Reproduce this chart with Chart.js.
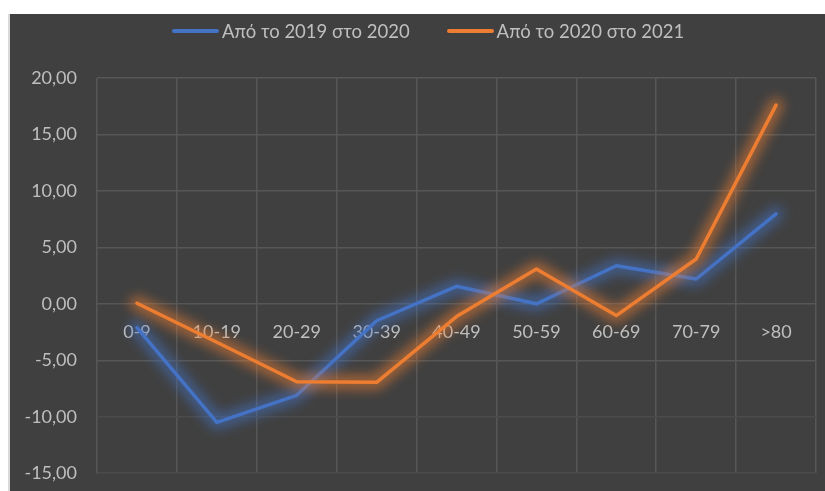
<!DOCTYPE html>
<html lang="el">
<head>
    <meta charset="UTF-8">
    <title>Μεταβολή ανά ηλικιακή ομάδα</title>
    <script src="https://cdn.jsdelivr.net/npm/chart.js"></script>
    <style>
        body {
            margin: 0;
            background-color: #ffffff;
            font-family: 'Lato', 'Open Sans', sans-serif;
        }

        #chart-box {
            position: absolute;
            left: 8px;
            top: 14px;
            width: 817px;
            height: 477px;
            box-sizing: border-box;
            border-left: 2px solid #d9d9d9;
            background-color: #404040;
            overflow: hidden;
        }

        #legend {
            position: absolute;
            left: 162px;
            top: 5px;
            height: 24px;
            display: flex;
            align-items: center;
            gap: 37px;
            color: #bfbfbf;
            font-size: 18.5px;
            white-space: nowrap;
        }

        .legend-item {
            display: flex;
            align-items: center;
            gap: 3px;
        }

        .legend-line {
            width: 47px;
            height: 4px;
            border-radius: 2px;
        }

        /* a bit taller than the box: the x axis (sitting on zero) still keeps room below */
        #canvas-holder {
            position: absolute;
            left: 0;
            top: 0;
            width: 815px;
            height: 490px;
        }
    </style>
</head>
<body>
    <div id="chart-box">
        <div id="canvas-holder">
            <canvas id="line-chart"></canvas>
        </div>
        <div id="legend"></div>
    </div>

    <script>
        // age groups
        const categories = ['0-9', '10-19', '20-29', '30-39', '40-49', '50-59', '60-69', '70-79', '>80'];

        const seriesNames = ['Από το 2019 στο 2020', 'Από το 2020 στο 2021'];
        const seriesColors = ['#4472C4', '#ED7D31'];
        const glowColors = ['rgba(68, 114, 196, 0.55)', 'rgba(237, 125, 49, 0.55)'];

        const change2019to2020 = [-2.1, -10.5, -8.1, -1.5, 1.55, 0.0, 3.37, 2.2, 7.97];
        const change2020to2021 = [0.05, -3.4, -6.9, -6.95, -1.13, 3.08, -1.04, 3.97, 17.6];

        const yTicks = [-15, -10, -5, 0, 5, 10, 15, 20];

        const textColor = '#bfbfbf';
        const gridColor = '#575757';

        // soft glow under each line (uses the points chart.js already placed)
        const glowPlugin = {
            id: 'glow',
            beforeDatasetDraw(chart, args) {
                const pts = args.meta.data;
                if (!pts.length) return;
                const ctx = chart.ctx;
                ctx.save();
                ctx.filter = 'blur(6px)';
                ctx.strokeStyle = glowColors[args.index];
                ctx.lineWidth = 15;
                ctx.lineJoin = 'round';
                ctx.lineCap = 'round';
                ctx.beginPath();
                ctx.moveTo(pts[0].x, pts[0].y);
                for (let i = 1; i < pts.length; i++) {
                    ctx.lineTo(pts[i].x, pts[i].y);
                }
                ctx.stroke();
                ctx.restore();
            }
        };

        function buildLegend() {
            const legend = document.getElementById('legend');
            seriesNames.forEach((name, i) => {
                const item = document.createElement('div');
                item.className = 'legend-item';
                const line = document.createElement('span');
                line.className = 'legend-line';
                line.style.backgroundColor = seriesColors[i];
                const label = document.createElement('span');
                label.innerText = name;
                item.appendChild(line);
                item.appendChild(label);
                legend.appendChild(item);
            });
        }

        function formatNumber(value) {
            return value.toFixed(2).replace('.', ',');
        }

        buildLegend();

        const ctx = document.getElementById('line-chart').getContext('2d');
        new Chart(ctx, {
            type: 'line',
            data: {
                labels: categories,
                datasets: [
                    {
                        label: seriesNames[0],
                        data: change2019to2020,
                        borderColor: seriesColors[0],
                        backgroundColor: seriesColors[0],
                        borderWidth: 3.5,
                        pointRadius: 0,
                        borderJoinStyle: 'round',
                        borderCapStyle: 'round',
                        tension: 0,
                        order: 1
                    },
                    {
                        label: seriesNames[1],
                        data: change2020to2021,
                        borderColor: seriesColors[1],
                        backgroundColor: seriesColors[1],
                        borderWidth: 3.5,
                        pointRadius: 0,
                        borderJoinStyle: 'round',
                        borderCapStyle: 'round',
                        tension: 0,
                        order: 0
                    }
                ]
            },
            options: {
                responsive: true,
                maintainAspectRatio: false,
                animation: false,
                layout: {
                    padding: { top: 64, right: 9, bottom: 6, left: 0 }
                },
                plugins: {
                    legend: { display: false },
                    tooltip: { enabled: false }
                },
                scales: {
                    x: {
                        type: 'category',
                        position: { y: 0 },
                        offset: true,
                        grid: {
                            offset: true,
                            color: gridColor,
                            lineWidth: 1.5,
                            drawTicks: false
                        },
                        border: { display: false },
                        ticks: {
                            color: textColor,
                            padding: 18,
                            maxRotation: 0,
                            font: { family: "'Lato', 'Open Sans', sans-serif", size: 18 }
                        }
                    },
                    y: {
                        min: yTicks[0],
                        max: yTicks[yTicks.length - 1],
                        afterFit: (scale) => { scale.width = 87; },
                        afterBuildTicks: (scale) => {
                            scale.ticks = yTicks.map(v => ({ value: v }));
                        },
                        grid: {
                            color: (c) => (c.tick && c.tick.value <= -10 ? '#4b4b4b' : gridColor),
                            lineWidth: 1.5,
                            drawTicks: false
                        },
                        border: { display: false },
                        ticks: {
                            color: textColor,
                            padding: 20,
                            callback: (value) => formatNumber(value),
                            font: { family: "'Lato', 'Open Sans', sans-serif", size: 18 }
                        }
                    }
                }
            },
            plugins: [glowPlugin]
        });
    </script>
</body>
</html>
